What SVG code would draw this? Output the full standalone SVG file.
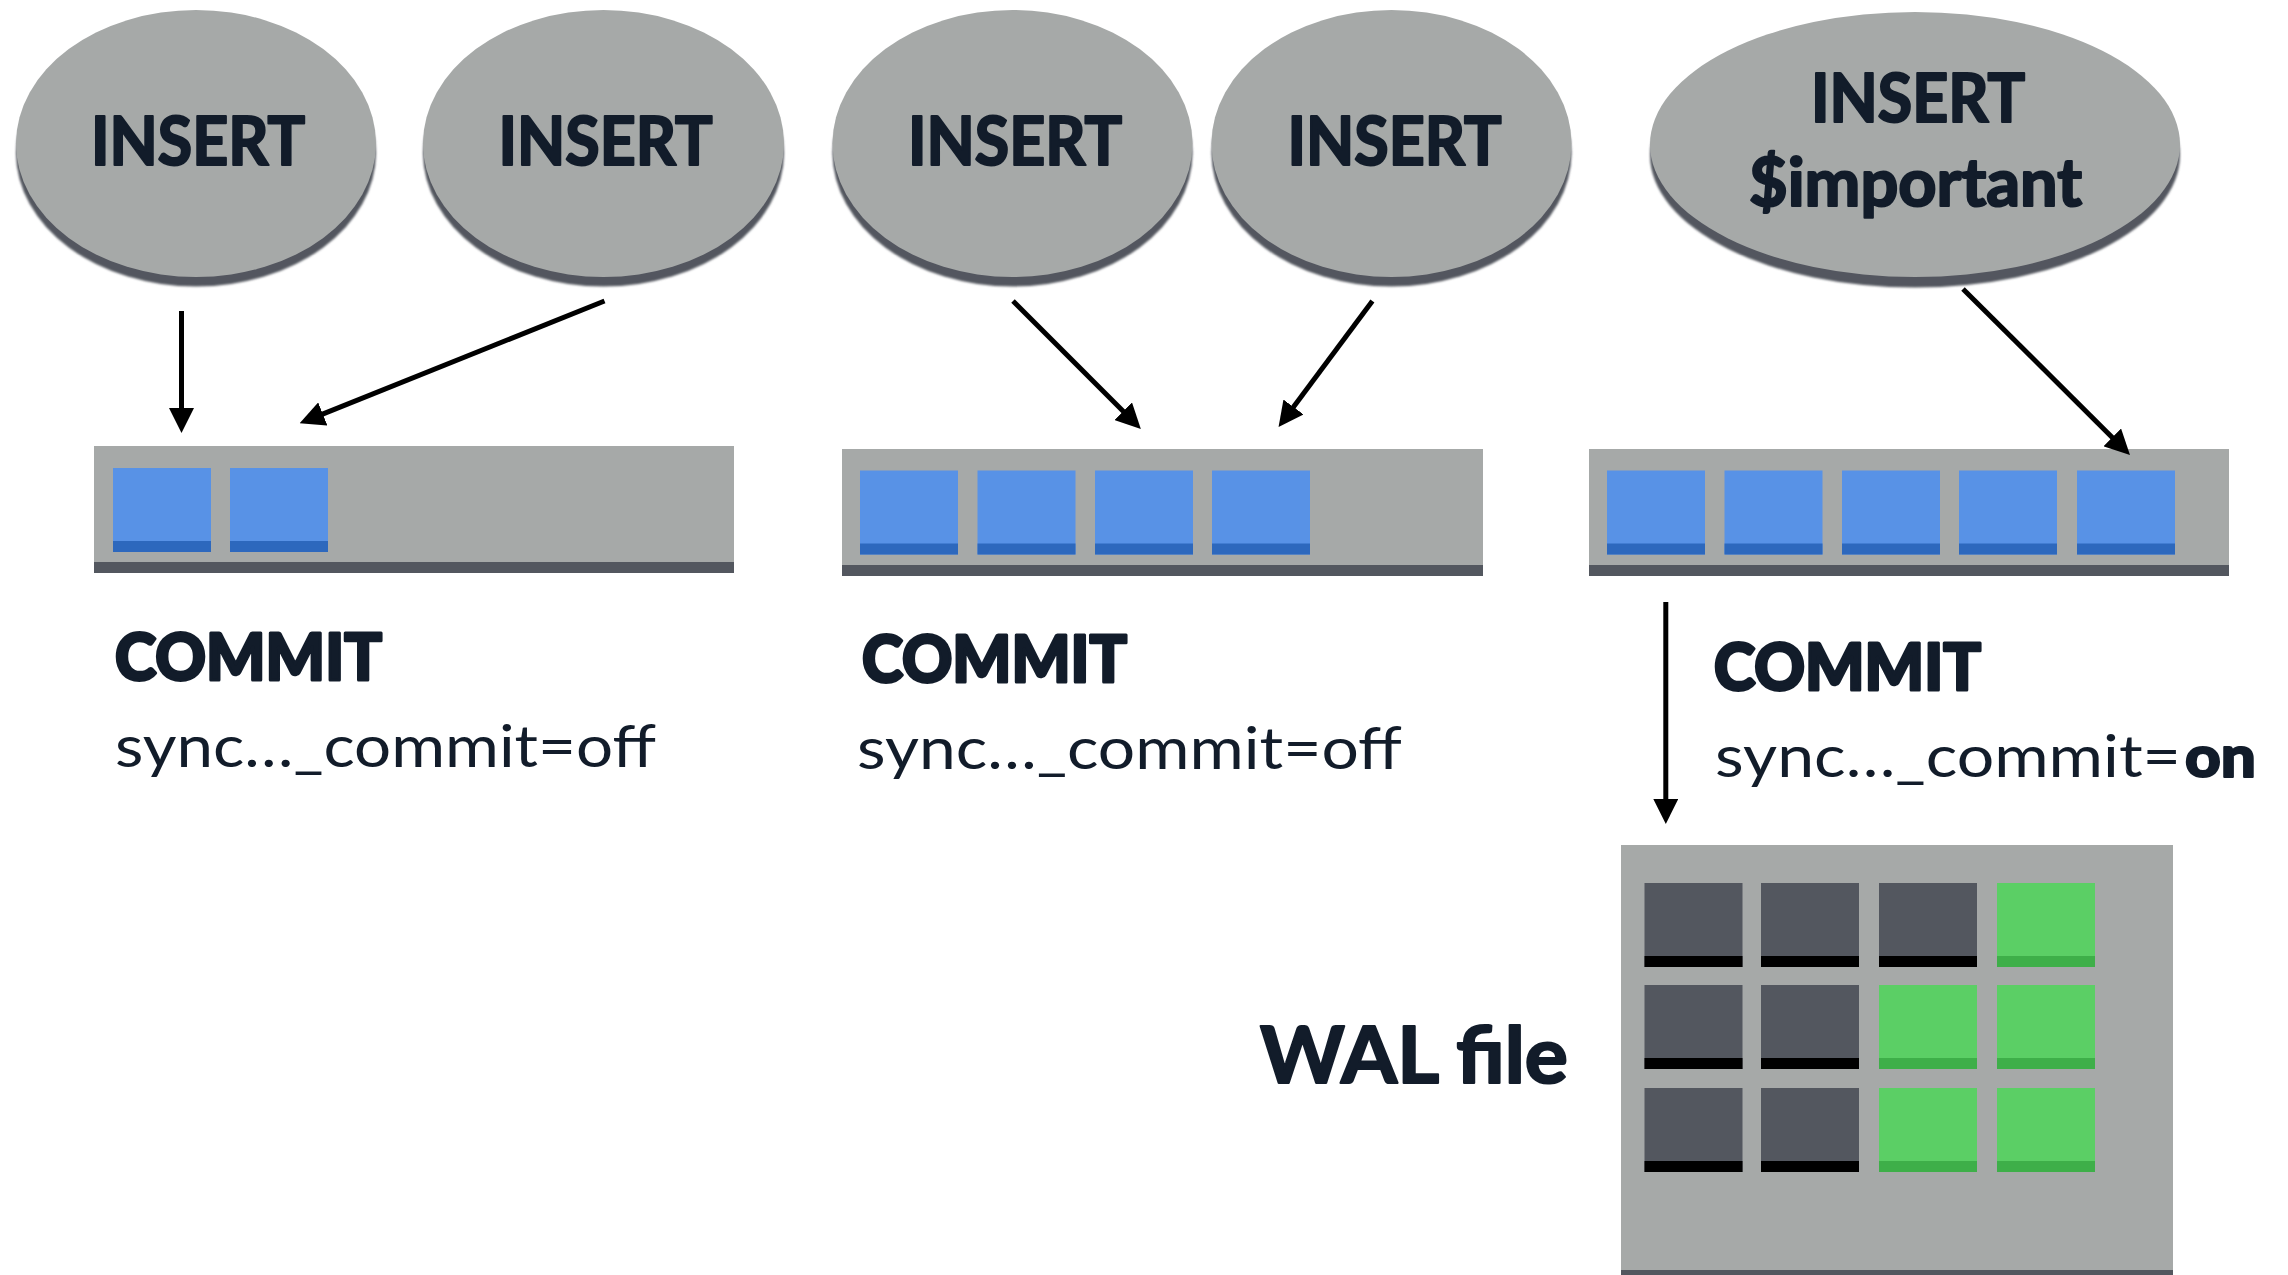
<svg xmlns="http://www.w3.org/2000/svg" width="2288" height="1275" viewBox="0 0 2288 1275">
  <defs>
    <style>
      .disc { fill: #a6a9a8; }
      .disc-shadow { fill: #53575f; filter: url(#soft); }
      .tray { fill: #a6a9a8; }
      .tray-edge { fill: #53575f; }
      .lbl { font-family: Lato, "Noto Sans", "DejaVu Sans", sans-serif; fill: #121c2a; }
      .ins { font-size: 66px; font-weight: 700; text-anchor: middle; stroke: #121c2a; stroke-width: 2.2px; stroke-linejoin: round; }
      .commit { font-size: 65px; font-weight: 900; stroke: #121c2a; stroke-width: 3px; stroke-linejoin: round; }
      .sync { font-size: 58px; font-weight: 400; }
      .strong { font-weight: 900; stroke: #121c2a; stroke-width: 2px; stroke-linejoin: round; }
      .wal { font-size: 78px; font-weight: 700; stroke: #121c2a; stroke-width: 2.2px; stroke-linejoin: round; }
      .arrow { stroke: #000; stroke-width: 5; fill: none; marker-end: url(#head); }
    </style>
    <filter id="soft" x="-5%" y="-5%" width="110%" height="110%">
      <feGaussianBlur stdDeviation="1.2"/>
    </filter>
    <marker id="head" markerUnits="userSpaceOnUse" viewBox="0 0 25 25" markerWidth="25" markerHeight="25" refX="5" refY="12.5" orient="auto">
      <path d="M0,0 L25,12.5 L0,25 Z" fill="#000"/>
    </marker>
    <!-- one record slot: face plus darker bottom lip -->
    <g id="blue">
      <rect width="98" height="84" fill="#5892e6"/>
      <rect y="73" width="98" height="11" fill="#2d68bd"/>
    </g>
    <g id="dark">
      <rect width="98" height="84" fill="#53575f"/>
      <rect y="73" width="98" height="11" fill="#000"/>
    </g>
    <g id="green">
      <rect width="98" height="84" fill="#5bcf65"/>
      <rect y="73" width="98" height="11" fill="#3eaf49"/>
    </g>
  </defs>

  <rect width="2288" height="1275" fill="#fff"/>

  <!-- INSERT statements -->
  <g id="insert-1">
    <ellipse class="disc-shadow" cx="196" cy="153" rx="180" ry="133.5"/>
    <ellipse class="disc" cx="196" cy="143.5" rx="180" ry="133.5"/>
    <text class="lbl ins" x="198" y="165" textLength="214" lengthAdjust="spacingAndGlyphs">INSERT</text>
  </g>
  <g id="insert-2">
    <ellipse class="disc-shadow" cx="603.5" cy="153" rx="180.5" ry="133.5"/>
    <ellipse class="disc" cx="603.5" cy="143.5" rx="180.5" ry="133.5"/>
    <text class="lbl ins" x="605.5" y="165" textLength="214" lengthAdjust="spacingAndGlyphs">INSERT</text>
  </g>
  <g id="insert-3">
    <ellipse class="disc-shadow" cx="1012.5" cy="153" rx="180" ry="133.5"/>
    <ellipse class="disc" cx="1012.5" cy="143.5" rx="180" ry="133.5"/>
    <text class="lbl ins" x="1015" y="165" textLength="214" lengthAdjust="spacingAndGlyphs">INSERT</text>
  </g>
  <g id="insert-4">
    <ellipse class="disc-shadow" cx="1391.5" cy="153" rx="180" ry="133.5"/>
    <ellipse class="disc" cx="1391.5" cy="143.5" rx="180" ry="133.5"/>
    <text class="lbl ins" x="1394.5" y="165" textLength="214" lengthAdjust="spacingAndGlyphs">INSERT</text>
  </g>
  <g id="insert-important">
    <ellipse class="disc-shadow" cx="1915" cy="155" rx="265" ry="132.5"/>
    <ellipse class="disc" cx="1915" cy="144.5" rx="265" ry="132.5"/>
    <text class="lbl ins" x="1918" y="122" textLength="214" lengthAdjust="spacingAndGlyphs">INSERT</text>
    <text class="lbl ins" x="1915.5" y="206" textLength="333" lengthAdjust="spacingAndGlyphs">$important</text>
  </g>

  <!-- transaction buffers -->
  <g id="buffer-1">
    <rect class="tray" x="94" y="446" width="640" height="116"/>
    <rect class="tray-edge" x="94" y="562" width="640" height="11"/>
    <use href="#blue" x="113" y="468"/>
    <use href="#blue" x="230" y="468"/>
  </g>
  <g id="buffer-2">
    <rect class="tray" x="842" y="449" width="641" height="116"/>
    <rect class="tray-edge" x="842" y="565" width="641" height="11"/>
    <use href="#blue" x="860" y="470.5"/>
    <use href="#blue" x="977.5" y="470.5"/>
    <use href="#blue" x="1095" y="470.5"/>
    <use href="#blue" x="1212" y="470.5"/>
  </g>
  <g id="buffer-3">
    <rect class="tray" x="1589" y="449" width="640" height="116"/>
    <rect class="tray-edge" x="1589" y="565" width="640" height="11"/>
    <use href="#blue" x="1607" y="470.5"/>
    <use href="#blue" x="1724.5" y="470.5"/>
    <use href="#blue" x="1842" y="470.5"/>
    <use href="#blue" x="1959" y="470.5"/>
    <use href="#blue" x="2077" y="470.5"/>
  </g>

  <!-- commit labels -->
  <g id="commit-1">
    <text class="lbl commit" x="115" y="680" textLength="267" lengthAdjust="spacingAndGlyphs">COMMIT</text>
    <text class="lbl sync" x="115" y="767" textLength="541" lengthAdjust="spacingAndGlyphs">sync…_commit=off</text>
  </g>
  <g id="commit-2">
    <text class="lbl commit" x="862" y="682" textLength="265" lengthAdjust="spacingAndGlyphs">COMMIT</text>
    <text class="lbl sync" x="857" y="769" textLength="545" lengthAdjust="spacingAndGlyphs">sync…_commit=off</text>
  </g>
  <g id="commit-3">
    <text class="lbl commit" x="1714" y="690" textLength="267" lengthAdjust="spacingAndGlyphs">COMMIT</text>
    <text class="lbl sync" x="1715" y="777"><tspan textLength="466" lengthAdjust="spacingAndGlyphs">sync…_commit=</tspan><tspan class="strong" x="2185" textLength="71" lengthAdjust="spacingAndGlyphs">on</tspan></text>
  </g>

  <!-- WAL file -->
  <g id="wal-file">
    <rect class="tray" x="1621" y="845" width="552" height="425"/>
    <rect class="tray-edge" x="1621" y="1270" width="552" height="5"/>
    <use href="#dark" x="1644.5" y="883"/>
    <use href="#dark" x="1761" y="883"/>
    <use href="#dark" x="1879" y="883"/>
    <use href="#green" x="1997" y="883"/>
    <use href="#dark" x="1644.5" y="985"/>
    <use href="#dark" x="1761" y="985"/>
    <use href="#green" x="1879" y="985"/>
    <use href="#green" x="1997" y="985"/>
    <use href="#dark" x="1644.5" y="1088"/>
    <use href="#dark" x="1761" y="1088"/>
    <use href="#green" x="1879" y="1088"/>
    <use href="#green" x="1997" y="1088"/>
    <text class="lbl wal" x="1260" y="1083" textLength="308" lengthAdjust="spacingAndGlyphs">WAL file</text>
  </g>

  <!-- connectors -->
  <g id="connectors">
    <line class="arrow" x1="181.5" y1="311" x2="181.5" y2="413"/>
    <line class="arrow" x1="604.5" y1="301" x2="318.2" y2="415.9"/>
    <line class="arrow" x1="1013" y1="301" x2="1126.7" y2="414.8"/>
    <line class="arrow" x1="1372.4" y1="301" x2="1290.5" y2="411"/>
    <line class="arrow" x1="1963" y1="289" x2="2115.8" y2="440.9"/>
    <line class="arrow" x1="1665.8" y1="602" x2="1665.8" y2="804"/>
  </g>
</svg>
